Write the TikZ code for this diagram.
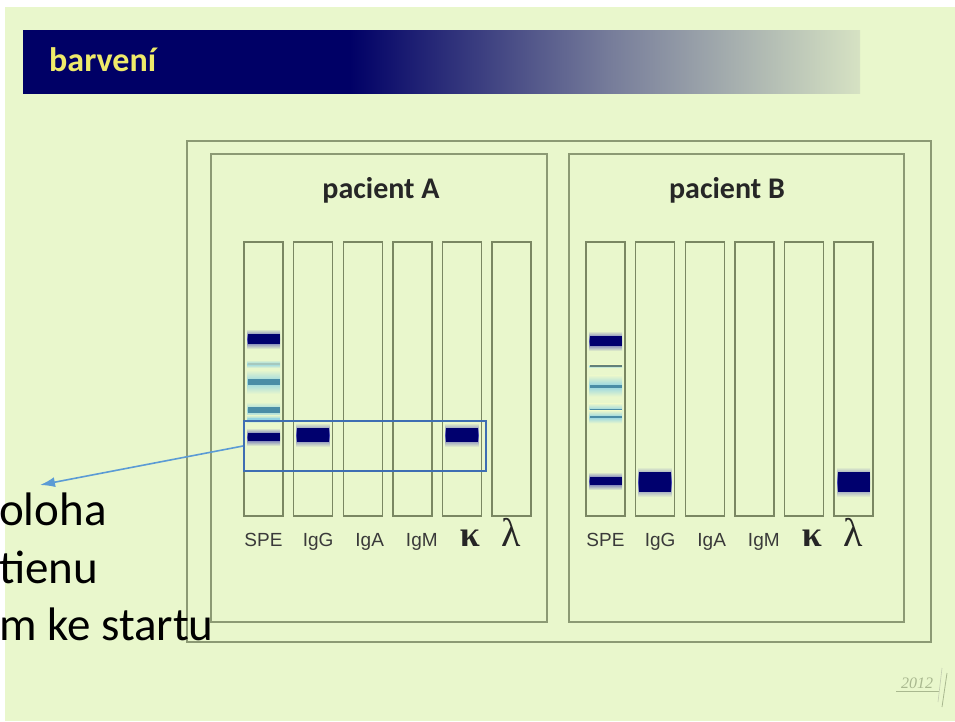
\documentclass[tikz,border=0pt]{standalone}
\usepackage{fontspec}
\setmainfont{Carlito}
\newfontfamily\arialfont{Liberation Sans}
\newfontfamily\timesfont{Liberation Serif}
\usetikzlibrary{arrows.meta}

\definecolor{bg}{HTML}{E9F7CC}
\definecolor{navy}{HTML}{000066}
\definecolor{fadeA}{HTML}{767C9A}
\definecolor{fadeB}{HTML}{D6E2C3}
\definecolor{headtext}{HTML}{EEEA6A}
\definecolor{frameline}{HTML}{8C9A74}
\definecolor{laneline}{HTML}{7A8762}
\definecolor{bandnavy}{HTML}{00006E}
\definecolor{bandblue}{HTML}{3A3AB0}
\definecolor{bandteal}{HTML}{4A8DA6}
\definecolor{bandcyan}{HTML}{94D4E2}
\definecolor{bandpale}{HTML}{A6C8BE}
\definecolor{bandgrey}{HTML}{62807A}
\definecolor{markblue}{HTML}{3E6EB2}
\definecolor{arrowblue}{HTML}{5B9BD5}
\definecolor{labelgrey}{HTML}{3A3A3A}
\definecolor{logogreen}{HTML}{A9B88F}

% header bar: solid navy, then fading out
\pgfdeclarehorizontalshading{headshade}{100bp}{color(0bp)=(navy); color(25bp)=(navy);
  color(44.5bp)=(navy); color(60bp)=(fadeA); color(75bp)=(fadeB); color(100bp)=(fadeB)}

% dark band: lane left edge, centre, half height of the core
\newcommand{\darkband}[3]{%
  \shade[top color=bg, bottom color=bg, middle color=bandblue] (#1+3,#2-#3-5) rectangle (#1+36,#2+#3+5);
  \fill[bandnavy] (#1+3.5,#2-#3) rectangle (#1+35.5,#2+#3);}
% light band: lane left edge, centre, halo, half height of the line, line colour
\newcommand{\lightband}[5]{%
  \shade[top color=bg, bottom color=bg, middle color=bandcyan] (#1+3,#2-#4-#3) rectangle (#1+36,#2+#4+#3);
  \fill[#5] (#1+3.5,#2-#4) rectangle (#1+35.5,#2+#4);}

\begin{document}
\begin{tikzpicture}[x=1pt, y=-1pt,
  lane/.style={draw=laneline, line width=1.4pt, minimum width=39pt, minimum height=274pt, inner sep=0pt},
  panel/.style={draw=frameline, line width=1.2pt},
  title/.style={font=\fontsize{30}{36}\selectfont\bfseries, text=black!85},
  lanelabel/.style={font=\arialfont\fontsize{19}{22}\selectfont, text=labelgrey},
  kappalabel/.style={font=\timesfont\bfseries\fontsize{36}{40}\selectfont, text=black!85},
  lambdalabel/.style={font=\timesfont\fontsize{40}{44}\selectfont, text=black!85},
  note/.style={font=\fontsize{47}{54}\selectfont, inner sep=0pt},
  pointer/.style={-{Latex[length=15pt,width=10pt]}, draw=arrowblue, line width=1.6pt}]
\useasboundingbox (0,0) rectangle (955,721);

% slide and header
\fill[white] (0,0) rectangle (955,721);
\fill[bg] (5,7) rectangle (955,721);
\shade[shading=headshade] (23,30) rectangle (860,93);
\node[anchor=base west, inner sep=0pt, text=headtext, font=\fontsize{34}{40}\selectfont\bfseries] (head) at (49,71) {barvení};

% frames
\draw[panel] (187,141) rectangle (931,642);
\draw[panel] (211,154) rectangle (547,622);
\draw[panel] (569,154) rectangle (904,622);
\node[title, anchor=base] (titleA) at (381,198) {pacient A};
\node[title, anchor=base] (titleB) at (727,198) {pacient B};

% lanes with labels
\coordinate (labelbase) at (0,546);
\foreach \p/\x in {A/263.5, B/605.5} {
  \foreach \i in {1,...,6}
    \node[lane] (\p\i) at (\x+49.6*\i-49.6, 379) {};
  \foreach \t/\dx/\s [count=\i] in {SPE/0/lanelabel, IgG/5/lanelabel, IgA/7/lanelabel, IgM/9.5/lanelabel, κ/8/kappalabel, λ/-0.5/lambdalabel}
    \node[\s, anchor=base, xshift=\dx pt] (l\p\i) at (\p\i.south |- labelbase) {\t};
}

% bands, pacient A
\darkband{244}{339}{5}
\lightband{244}{364}{3}{1}{bandpale}
\lightband{244}{382}{9}{3}{bandteal}
\lightband{244}{410}{5}{3}{bandteal}
\lightband{244}{419}{3}{1}{bandcyan}
\darkband{244}{437}{4}
\darkband{293.6}{435}{7}
\darkband{442.4}{435}{7}
% bands, pacient B
\darkband{586}{341}{5}
\lightband{586}{366}{1}{0.8}{bandgrey}
\lightband{586}{386}{9}{1.5}{bandteal}
\lightband{586}{410}{5}{1.3}{bandteal}
\lightband{586}{417}{5}{1.3}{bandteal}
\darkband{586}{481}{4}
\darkband{635.6}{482}{10}
\darkband{834}{482}{10}

% marked region and note
\node[draw=markblue, line width=2pt, minimum width=242pt, minimum height=50pt, inner sep=0pt] (mark) at (365,446) {};
\node[note, anchor=base west] (note1) at (-1,525) {oloha};
\node[note, anchor=base west] (note2) at (-1,583) {tienu};
\node[note, anchor=base west] (note3) at (-1,640) {m ke startu};
\coordinate (tip) at (40,485);
\draw[pointer] (mark.west) -- (tip);

% logo
\node[font=\timesfont\itshape\fontsize{16}{18}\selectfont, text=logogreen, inner sep=0pt, anchor=base] (logo) at (917,688) {2012};
\draw[logogreen, line width=0.8pt] (896,691) -- (939,691);
\draw[logogreen, line width=0.8pt] (947,673) -- (942,707);
\draw[logogreen!70, line width=0.6pt] (942,668) -- (938,702);
\end{tikzpicture}
\end{document}
